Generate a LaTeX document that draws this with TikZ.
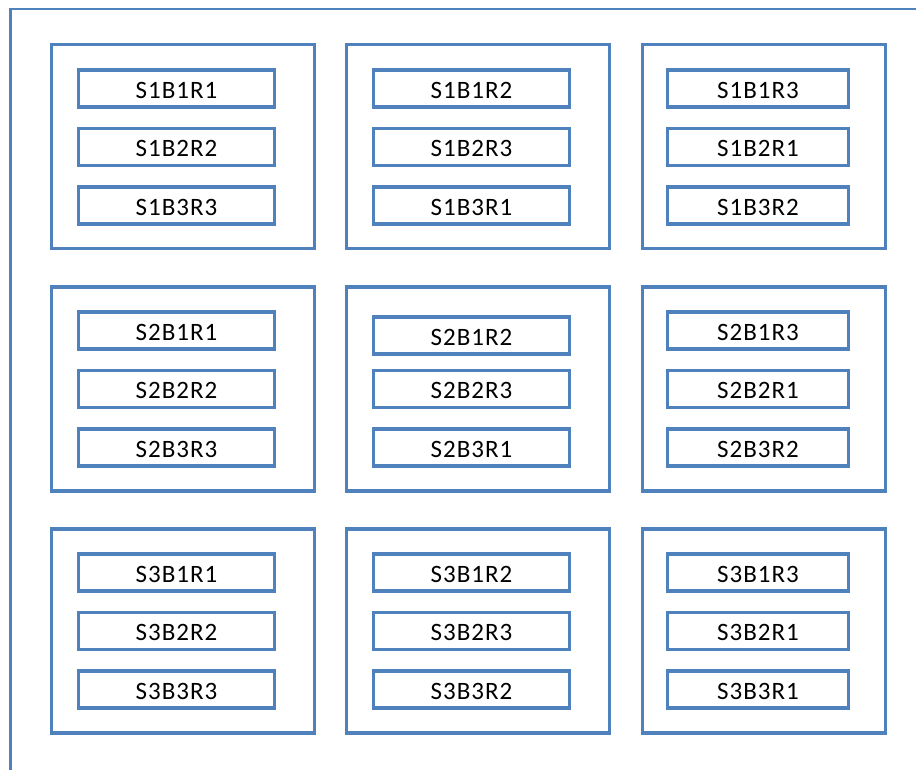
\documentclass[tikz,border=0pt]{standalone}
\usepackage{fontspec}
\setmainfont{Carlito}[LetterSpace=4]
\definecolor{frameblue}{HTML}{4F81BD}
\tikzset{
  block/.style={draw=frameblue, line width=3.2pt, minimum width=263pt, minimum height=204pt, inner sep=0pt},
  narrowblock/.style={block, minimum width=243pt},
  cell/.style={draw=frameblue, line width=3.2pt, minimum width=196pt, minimum height=37pt, inner sep=0pt,
    font=\fontsize{25}{29}\selectfont, text height=19.5pt, text depth=0pt},
  narrowcell/.style={cell, minimum width=181pt},
}
\begin{document}
\begin{tikzpicture}[x=1pt, y=-1pt]
  \clip (0,0) rectangle (916,770);
  % outer frame, running past the page edge on the right and bottom
  \draw[frameblue, line width=2.6pt] (10.5,800) -- (10.5,9) -- (940,9) -- (940,800);

  % sets (rows) and their three blocks each
  \node[block] (s1a) at (183,146.5) {};
  \node[block] (s1b) at (478,146.5) {};
  \node[narrowblock] (s1c) at (764,146.5) {};
  \node[block] (s2a) at (183,389) {};
  \node[block] (s2b) at (478,389) {};
  \node[narrowblock] (s2c) at (764,389) {};
  \node[block] (s3a) at (183,631) {};
  \node[block] (s3b) at (478,631) {};
  \node[narrowblock] (s3c) at (764,631) {};

  % set 1
  \node[cell] (s1b1r1) at (176.5,88.5) {S1B1R1};
  \node[cell] (s1b2r2) at (176.5,147) {S1B2R2};
  \node[cell] (s1b3r3) at (176.5,205.5) {S1B3R3};
  \node[cell] (s1b1r2) at (471.5,88.5) {S1B1R2};
  \node[cell] (s1b2r3) at (471.5,147) {S1B2R3};
  \node[cell] (s1b3r1) at (471.5,205.5) {S1B3R1};
  \node[narrowcell] (s1b1r3) at (758,88.5) {S1B1R3};
  \node[narrowcell] (s1b2r1) at (758,147) {S1B2R1};
  \node[narrowcell] (s1b3r2) at (758,205.5) {S1B3R2};

  % set 2
  \node[cell] (s2b1r1) at (176.5,330.5) {S2B1R1};
  \node[cell] (s2b2r2) at (176.5,389) {S2B2R2};
  \node[cell] (s2b3r3) at (176.5,447.5) {S2B3R3};
  \node[cell] (s2b1r2) at (471.5,335.5) {S2B1R2};
  \node[cell] (s2b2r3) at (471.5,389) {S2B2R3};
  \node[cell] (s2b3r1) at (471.5,447.5) {S2B3R1};
  \node[narrowcell] (s2b1r3) at (758,330.5) {S2B1R3};
  \node[narrowcell] (s2b2r1) at (758,389) {S2B2R1};
  \node[narrowcell] (s2b3r2) at (758,447.5) {S2B3R2};

  % set 3
  \node[cell] (s3b1r1) at (176.5,572.5) {S3B1R1};
  \node[cell] (s3b2r2) at (176.5,631) {S3B2R2};
  \node[cell] (s3b3r3) at (176.5,689.5) {S3B3R3};
  \node[cell] (s3b1r2) at (471.5,572.5) {S3B1R2};
  \node[cell] (s3b2r3) at (471.5,631) {S3B2R3};
  \node[cell] (s3b3r2) at (471.5,689.5) {S3B3R2};
  \node[narrowcell] (s3b1r3) at (758,572.5) {S3B1R3};
  \node[narrowcell] (s3b2r1) at (758,631) {S3B2R1};
  \node[narrowcell] (s3b3r1) at (758,689.5) {S3B3R1};
\end{tikzpicture}
\end{document}
